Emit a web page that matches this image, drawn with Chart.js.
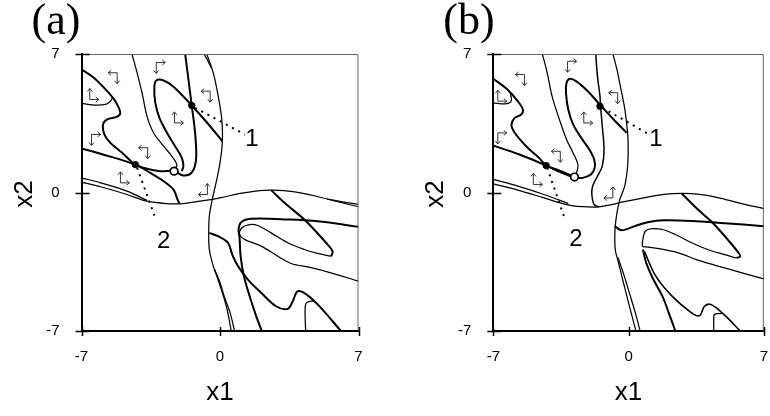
<!DOCTYPE html>
<html lang="en">
<head>
<meta charset="UTF-8">
<title>Phase plane x1-x2, cases (a) and (b)</title>
<script src="https://cdn.jsdelivr.net/npm/chart.js"></script>
<style>
  html, body { margin: 0; padding: 0; background: #fff; }
  body { width: 770px; height: 416px; position: relative; overflow: hidden; }
  .panel { position: absolute; top: 0; height: 416px; }
  #panelA { left: 0; width: 385px; }
  #panelB { left: 385px; width: 400px; }
</style>
</head>
<body>
<div class="panel" id="panelA"><canvas id="chartA" width="385" height="416"></canvas></div>
<div class="panel" id="panelB"><canvas id="chartB" width="400" height="416"></canvas></div>
<script>
// axis ticks shared by both panels
const tickValues = [-7, 0, 7];

// ---- panel (a): curves as [x1, x2] points ----
const aUpperRidge = [[-7.0,6.22],[-6.38,5.80],[-5.70,5.12],[-5.29,4.61],[-5.04,4.03],[-5.20,3.83],[-5.70,3.69],[-5.91,3.44],[-5.84,2.93],[-5.54,2.51],[-4.95,2.01],[-4.28,1.41],[-3.69,1.20],[-3.02,1.08],[-2.32,1.08],[-1.85,0.86],[-1.43,1.0],[-1.21,1.67],[-1.26,3.02],[-1.43,4.40],[-1.76,7.0]];
const aLowerRidge = [[-7.0,2.22],[-6.04,1.96],[-4.28,1.41],[-3.52,0.99],[-2.85,0.57],[-2.35,0.15],[-2.15,-0.35],[-2.05,-0.55]];
const aLoop = [[0.12,2.59],[-0.67,3.55],[-1.43,4.40],[-2.35,5.34],[-2.85,5.66],[-3.22,5.66],[-3.32,5.29],[-3.27,4.53],[-3.06,3.77],[-2.68,3.02],[-2.27,2.34],[-1.93,1.75],[-1.85,1.33],[-1.93,1.08]];
const aStemLine = [[-4.45,7.0],[-4.19,6.05],[-3.94,5.04],[-3.69,3.86],[-3.36,3.02],[-2.85,2.34],[-2.43,1.83],[-2.18,1.41],[-2.25,1.2]];
const aCornerArc = [[-7.0,4.50],[-6.30,4.42],[-5.74,4.47],[-5.49,4.67],[-5.46,4.80]];
const aDivide = [[-0.67,7.0],[-0.34,6.05],[-0.09,4.87],[0.09,3.69],[0.12,2.59],[0.0,1.50],[-0.20,0.49],[-0.39,-0.35],[-0.54,-1.20],[-0.57,-2.04],[-0.54,-2.88],[-0.34,-3.72],[-0.10,-4.40],[0.32,-5.75],[0.57,-7.0]];
const aDivideTwin = [[-0.27,-3.89],[0.0,-4.55],[0.23,-5.31],[0.49,-6.01],[0.74,-7.0]];
const aDivideFork = [[-0.81,7.0],[-0.65,6.72],[-0.44,6.30]];
const aSaddle = [[-7.0,0.52],[-6.04,0.29],[-4.70,-0.10],[-3.69,-0.44],[-2.68,-0.56],[-1.85,-0.56],[-1.01,-0.44],[0.0,-0.27],[1.01,-0.05],[2.01,0.10],[2.68,0.12],[3.69,0.04],[4.87,-0.19],[6.04,-0.49],[7.0,-0.72]];
const aSaddleTwin = [[-7.0,0.74],[-6.04,0.49],[-4.70,0.07],[-3.69,-0.40]];
const aSaddleTail = [[5.4,-0.33],[6.2,-0.47],[7.0,-0.60]];
const aCrest = [[2.58,0.12],[3.26,-0.52],[4.35,-1.45],[5.44,-2.63],[5.69,-2.97],[5.64,-3.18],[5.60,-3.22]];
const aTongue = [[5.60,-3.22],[4.93,-3.08],[4.26,-2.88],[3.42,-2.54],[2.58,-2.04],[1.91,-1.67],[1.50,-1.62],[1.11,-1.78],[0.99,-2.12],[1.24,-2.37],[2.08,-2.71],[2.92,-3.22],[3.59,-3.59],[4.60,-3.80],[5.60,-4.06],[7.0,-4.48]];
const aShelf = [[7.0,-1.73],[4.93,-1.45],[3.26,-1.36],[1.58,-1.33],[1.07,-1.50],[0.94,-1.87],[0.99,-2.29],[1.04,-3.22],[1.21,-4.23],[1.50,-5.24],[1.83,-6.25],[2.11,-7.0]];
const aWave = [[-0.54,-2.04],[-0.10,-2.21],[0.40,-2.54],[0.65,-3.22],[0.91,-3.72],[1.41,-4.40],[2.08,-5.07],[2.83,-5.75],[3.42,-5.88],[3.68,-5.49],[3.93,-4.99],[4.43,-5.20],[5.10,-5.83],[6.11,-7.0]];
const aNotch = [[4.33,-7.0],[4.30,-6.0],[4.35,-5.6],[4.55,-5.5],[4.75,-5.50]];
const aSinks = [[-1.43,4.40],[-4.28,1.41]];
const aSource = [[-2.32,1.08]];
const aLeader1 = [[-1.26,4.28],[1.26,2.93]];
const aLeader2 = [[-4.19,1.25],[-3.27,-1.28]];
const aCallouts = [['1',1.61,2.68],['2',-2.85,-2.46]];
// turning arrows: x1, x2, shape
const aTurns = [[-3.02,6.32,'A'],[-5.40,5.80,'B'],[-6.38,4.95,'C'],[-0.70,4.87,'B'],[-2.10,3.77,'C'],[-6.29,2.68,'A'],[-3.86,2.01,'B'],[-4.83,0.74,'C'],[-0.84,0.15,'D']];

// ---- panel (b) ----
const bUpperRidge = [[-7.0,5.75],[-6.31,5.24],[-5.73,4.61],[-5.47,4.19],[-5.55,3.94],[-5.89,3.77],[-6.06,3.44],[-5.89,3.02],[-5.30,2.34],[-4.63,1.75],[-4.26,1.36],[-3.63,1.13],[-2.82,0.79]];
const bLowerRidge = [[-7.0,2.37],[-5.64,1.92],[-4.26,1.36],[-3.54,1.03],[-2.87,0.77]];
const bLoop = [[-0.10,3.02],[-0.77,3.69],[-1.45,4.40],[-2.11,5.12],[-2.70,5.62],[-3.04,5.75],[-3.21,5.54],[-3.24,5.04],[-3.12,4.19],[-2.87,3.44],[-2.45,2.76],[-2.03,2.17],[-1.78,1.67],[-1.75,1.25],[-1.95,0.91],[-2.37,0.74],[-2.75,0.76]];
const bStemLine = [[-4.46,7.0],[-4.21,6.05],[-3.96,4.87],[-3.65,3.90],[-3.21,2.68],[-2.87,2.0],[-2.62,1.41],[-2.70,0.95]];
const bStem = [[-1.70,7.0],[-1.61,5.88],[-1.48,4.87],[-1.45,4.36],[-1.36,3.35],[-1.27,2.17],[-1.36,1.33],[-1.61,0.82],[-1.86,0.32],[-1.90,-0.10],[-1.78,-0.61],[-1.53,-0.73]];
const bCornerArc = [[-7.0,4.53],[-6.39,4.48],[-6.11,4.56],[-6.06,4.73],[-6.12,5.03]];
const bDivide = [[-0.81,7.0],[-0.60,6.21],[-0.39,5.20],[-0.19,4.19],[-0.05,3.02],[-0.02,2.34],[-0.05,1.33],[-0.20,0.32],[-0.45,-0.35],[-0.60,-1.03],[-0.70,-1.87],[-0.69,-2.88],[-0.52,-3.55],[-0.35,-4.23],[-0.15,-5.0],[0.10,-5.96],[0.38,-7.0]];
const bDivideTwin = [[-0.55,-3.28],[-0.25,-4.14],[0.05,-5.10],[0.33,-6.01],[0.60,-7.0]];
const bSaddle = [[-7.0,0.44],[-5.73,0.12],[-4.38,-0.27],[-3.21,-0.61],[-2.37,-0.72],[-1.70,-0.74],[-1.02,-0.64],[-0.35,-0.49],[0.65,-0.30],[1.83,-0.10],[2.83,-0.05],[3.68,-0.10],[4.68,-0.27],[5.69,-0.52],[7.0,-0.81]];
const bSaddleTwin = [[-7.0,0.66],[-5.73,0.32],[-4.38,-0.10],[-3.12,-0.56]];
const bCrest = [[2.75,-0.05],[3.59,-0.86],[4.35,-1.53],[5.27,-2.54],[5.69,-3.05],[5.78,-3.23],[5.59,-3.31]];
const bTongue = [[5.59,-3.31],[4.93,-3.13],[4.09,-2.88],[3.26,-2.54],[2.42,-2.12],[1.75,-1.87],[1.24,-1.83],[0.87,-1.96],[0.74,-2.37],[0.73,-2.73],[0.91,-2.75],[1.58,-2.84],[2.58,-3.05],[3.59,-3.42],[4.93,-3.80],[7.0,-4.37]];
const bShelf = [[-0.72,-1.70],[-0.35,-1.91],[0.32,-1.70],[0.99,-1.50],[1.83,-1.40],[3.51,-1.45],[5.19,-1.57],[7.0,-1.70]];
const bDrop = [[0.74,-2.88],[0.91,-3.55],[1.24,-4.31],[1.75,-5.24],[2.08,-6.08],[2.42,-7.0]];
const bWave = [[0.82,-2.97],[1.41,-4.23],[2.25,-5.24],[3.26,-6.08],[3.68,-6.22],[3.93,-5.75],[4.26,-5.66],[4.93,-6.16],[5.78,-7.0]];
const bNotch = [[4.41,-7.0],[4.41,-6.3],[4.45,-6.16],[4.70,-6.12],[4.85,-6.10]];
const bSinks = [[-1.48,4.36],[-4.26,1.36]];
const bSource = [[-2.80,0.78]];
const bLeader1 = [[-1.35,4.28],[1.07,2.93]];
const bLeader2 = [[-4.21,1.25],[-3.29,-1.36]];
const bCallouts = [['1',1.41,2.68],['2',-2.73,-2.37]];
const bTurns = [[-2.95,6.38,'A'],[-5.59,5.71,'B'],[-6.56,4.87,'C'],[-0.77,4.79,'B'],[-2.11,3.77,'C'],[-6.56,2.76,'A'],[-3.74,1.83,'B'],[-4.72,0.66,'C'],[-1.02,-0.02,'D']];

const SANS = '"Liberation Sans", Arial, sans-serif';
const SERIF = '"Liberation Serif", "Times New Roman", serif';
const THIN = 1.25;

const toXY = pts => pts.map(p => ({ x: p[0], y: p[1] }));

function curve(pts, width) {
  return { data: toXY(pts), showLine: true, borderColor: '#000', borderWidth: width,
           pointRadius: 0, tension: 0.35, order: 2 };
}
function leader(pts) {
  return { data: toXY(pts), showLine: true, borderColor: '#000', borderWidth: 2,
           borderDash: [2, 5], pointRadius: 0, tension: 0, order: 1 };
}
function marks(pts, hollow) {
  return { data: toXY(pts), showLine: false, order: 0,
           pointRadius: hollow ? 3.8 : 3.2, pointBorderWidth: hollow ? 1.7 : 1,
           pointBackgroundColor: hollow ? '#fff' : '#000', pointBorderColor: '#000' };
}

// bent double-headed arrow: A = corner top-left, B = top-right, C = bottom-left, D = bottom-right
function drawTurn(ctx, px, py, kind) {
  const sx = (kind === 'A' || kind === 'C') ? 1 : -1;
  const top = (kind === 'A' || kind === 'B');
  const vx = px - 4 * sx;
  const cy = top ? py - 5 : py + 5;
  const ey = top ? py + 6 : py - 6;
  const hx = px + 5 * sx;
  const d = top ? 1 : -1;
  ctx.beginPath();
  ctx.moveTo(vx, ey); ctx.lineTo(vx, cy); ctx.lineTo(hx, cy);
  ctx.moveTo(hx - 3 * sx, cy - 2.5); ctx.lineTo(hx, cy); ctx.lineTo(hx - 3 * sx, cy + 2.5);
  ctx.moveTo(vx - 2.5, ey - 3 * d); ctx.lineTo(vx, ey); ctx.lineTo(vx + 2.5, ey - 3 * d);
  ctx.stroke();
}

function decor(cfg) {
  return {
    id: 'decor',
    afterDraw(chart) {
      const { ctx, chartArea: area, scales: { x, y } } = chart;
      ctx.save();
      // thin top and right frame
      ctx.strokeStyle = '#666';
      ctx.lineWidth = 1;
      ctx.beginPath();
      ctx.moveTo(area.left, area.top + 0.5);
      ctx.lineTo(area.right - 0.5, area.top + 0.5);
      ctx.lineTo(area.right - 0.5, area.bottom);
      ctx.stroke();
      // tick marks crossing the axes
      ctx.strokeStyle = '#000';
      ctx.lineWidth = 1.5;
      ctx.beginPath();
      tickValues.forEach(v => {
        const py = Math.round(y.getPixelForValue(v)) + 0.5;
        ctx.moveTo(area.left - 6, py); ctx.lineTo(area.left + 8, py);
        const px = Math.round(x.getPixelForValue(v)) + 0.5;
        ctx.moveTo(px, area.bottom + 5); ctx.lineTo(px, area.bottom - 4);
      });
      ctx.stroke();
      // turning arrows
      ctx.strokeStyle = '#333';
      ctx.lineWidth = 1;
      cfg.turns.forEach(t => drawTurn(ctx, x.getPixelForValue(t[0]), y.getPixelForValue(t[1]), t[2]));
      // callout numbers
      ctx.fillStyle = '#000';
      ctx.textAlign = 'center';
      ctx.textBaseline = 'middle';
      ctx.font = '24px ' + SANS;
      cfg.callouts.forEach(c => ctx.fillText(c[0], x.getPixelForValue(c[1]), y.getPixelForValue(c[2])));
      // axis titles
      ctx.font = '26px ' + SANS;
      ctx.fillText('x1', x.getPixelForValue(0), 393);
      ctx.save();
      ctx.translate(area.left - 57, 194);
      ctx.rotate(-Math.PI / 2);
      ctx.fillText('x2', 0, 0);
      ctx.restore();
      // panel letter
      ctx.font = '44px ' + SERIF;
      ctx.textAlign = 'left';
      ctx.textBaseline = 'alphabetic';
      ctx.fillText(cfg.title, area.left - 50, 34);
      ctx.restore();
    }
  };
}

function buildChart(id, cfg) {
  const tickFont = { family: SANS, size: 15 };
  return new Chart(document.getElementById(id), {
    type: 'scatter',
    data: { datasets: cfg.datasets },
    options: {
      responsive: false,
      animation: false,
      events: [],
      layout: { padding: { top: 54, right: cfg.padRight, bottom: 0, left: 0 } },
      plugins: { legend: { display: false }, tooltip: { enabled: false } },
      scales: {
        x: {
          type: 'linear', min: -7, max: 7,
          afterBuildTicks: s => { s.ticks = tickValues.map(v => ({ value: v })); },
          afterFit: s => { s.height = 85; },
          grid: { display: false, drawTicks: false },
          border: { display: true, color: '#000', width: 2 },
          ticks: { padding: 17, color: '#000', font: tickFont, maxRotation: 0 }
        },
        y: {
          type: 'linear', min: -7, max: 7,
          afterBuildTicks: s => { s.ticks = tickValues.map(v => ({ value: v })); },
          afterFit: s => { s.width = cfg.axisLeft; },
          grid: { display: false, drawTicks: false },
          border: { display: true, color: '#000', width: 2 },
          ticks: { padding: 22, color: '#000', font: tickFont }
        }
      }
    },
    plugins: [decor(cfg)]
  });
}

buildChart('chartA', {
  title: '(a)', axisLeft: 81.5, padRight: 26.5,
  turns: aTurns, callouts: aCallouts,
  datasets: [
    marks(aSource, true), marks(aSinks, false),
    leader(aLeader1), leader(aLeader2),
    curve(aUpperRidge, 2), curve(aLowerRidge, 2), curve(aLoop, 2),
    curve(aStemLine, THIN), curve(aCornerArc, THIN),
    curve(aDivide, THIN), curve(aDivideTwin, THIN), curve(aDivideFork, THIN),
    curve(aSaddle, THIN), curve(aSaddleTwin, THIN), curve(aSaddleTail, THIN),
    curve(aCrest, 2), curve(aTongue, THIN), curve(aShelf, 2),
    curve(aWave, 2), curve(aNotch, THIN)
  ]
});

buildChart('chartB', {
  title: '(b)', axisLeft: 108.3, padRight: 14,
  turns: bTurns, callouts: bCallouts,
  datasets: [
    marks(bSource, true), marks(bSinks, false),
    leader(bLeader1), leader(bLeader2),
    curve(bUpperRidge, 2), curve(bLowerRidge, 2), curve(bLoop, 2),
    curve(bStemLine, THIN), curve(bStem, 1.5), curve(bCornerArc, THIN),
    curve(bDivide, THIN), curve(bDivideTwin, THIN),
    curve(bSaddle, THIN), curve(bSaddleTwin, THIN),
    curve(bCrest, 2), curve(bTongue, THIN), curve(bShelf, 2),
    curve(bDrop, 2), curve(bWave, 1.6), curve(bNotch, THIN)
  ]
});
</script>
</body>
</html>
